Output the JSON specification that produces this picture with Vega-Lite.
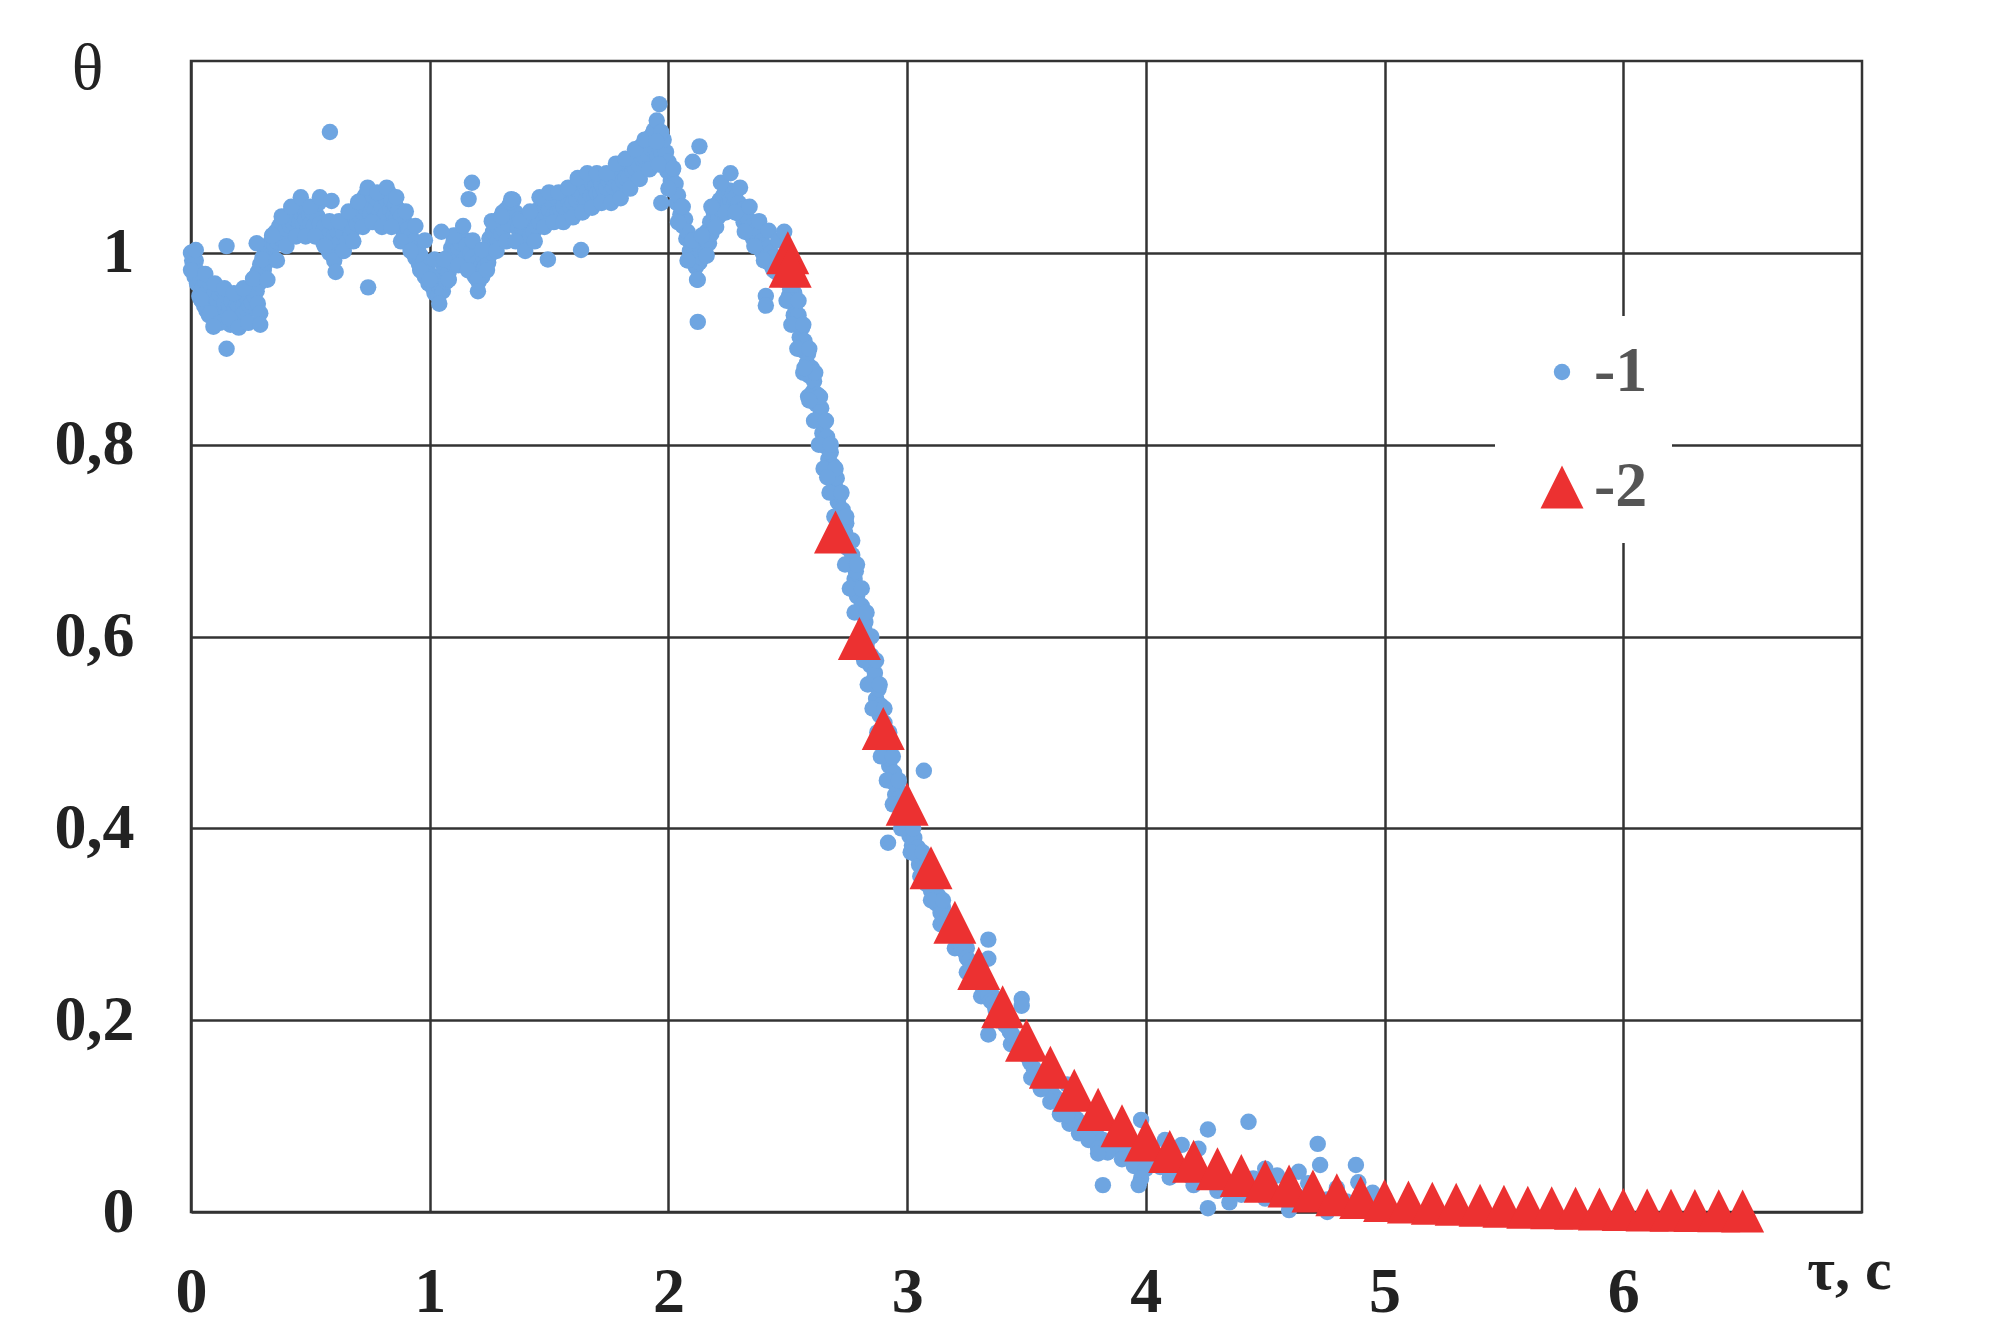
{
  "$schema": "https://vega.github.io/schema/vega-lite/v6.json",
  "width": 1671,
  "height": 1151,
  "autosize": {"type": "none"},
  "padding": {"left": 191, "top": 61, "right": 138, "bottom": 124},
  "background": "white",
  "config": {
    "view": {"stroke": "#333333", "strokeWidth": 2.5},
    "axis": {
      "domain": false,
      "ticks": false,
      "tickSize": 0,
      "gridColor": "#333333",
      "gridWidth": 2.5,
      "gridOpacity": 1,
      "labelFont": "Liberation Serif",
      "labelFontSize": 64,
      "labelFontWeight": "bold",
      "labelColor": "#222222",
      "labelFlush": false,
      "labelOverlap": false,
      "titleFont": "Liberation Serif",
      "titleColor": "#222222"
    },
    "legend": {
      "orient": "none",
      "legendX": 1304,
      "legendY": 255,
      "fillColor": "white",
      "padding": 24,
      "rowPadding": 51,
      "labelOffset": 0,
      "symbolOffset": 11,
      "labelFont": "Liberation Serif",
      "labelFontSize": 64,
      "labelFontWeight": "bold",
      "labelColor": "#555555",
      "symbolStrokeWidth": 0
    }
  },
  "data": {
    "values": [
      {"s":"-1","t":0.000,"v":1.000},{"s":"-1","t":0.005,"v":0.992},{"s":"-1","t":0.010,"v":0.985},{"s":"-1","t":0.015,"v":0.975},
      {"s":"-1","t":0.020,"v":0.992},{"s":"-1","t":0.025,"v":0.968},{"s":"-1","t":0.030,"v":0.980},{"s":"-1","t":0.035,"v":0.955},
      {"s":"-1","t":0.040,"v":0.972},{"s":"-1","t":0.045,"v":0.950},{"s":"-1","t":0.050,"v":0.965},{"s":"-1","t":0.055,"v":0.945},
      {"s":"-1","t":0.060,"v":0.970},{"s":"-1","t":0.065,"v":0.940},{"s":"-1","t":0.070,"v":0.960},{"s":"-1","t":0.075,"v":0.935},
      {"s":"-1","t":0.080,"v":0.968},{"s":"-1","t":0.085,"v":0.945},{"s":"-1","t":0.090,"v":0.955},{"s":"-1","t":0.095,"v":0.932},
      {"s":"-1","t":0.100,"v":0.960},{"s":"-1","t":0.105,"v":0.940},{"s":"-1","t":0.110,"v":0.950},{"s":"-1","t":0.115,"v":0.928},
      {"s":"-1","t":0.120,"v":0.957},{"s":"-1","t":0.125,"v":0.935},{"s":"-1","t":0.130,"v":0.962},{"s":"-1","t":0.135,"v":0.940},
      {"s":"-1","t":0.140,"v":0.948},{"s":"-1","t":0.145,"v":0.930},{"s":"-1","t":0.150,"v":0.955},{"s":"-1","t":0.155,"v":0.935},
      {"s":"-1","t":0.160,"v":0.945},{"s":"-1","t":0.165,"v":0.925},{"s":"-1","t":0.170,"v":0.950},{"s":"-1","t":0.175,"v":0.932},
      {"s":"-1","t":0.180,"v":0.940},{"s":"-1","t":0.185,"v":0.925},{"s":"-1","t":0.190,"v":0.948},{"s":"-1","t":0.195,"v":0.930},
      {"s":"-1","t":0.200,"v":0.945},{"s":"-1","t":0.205,"v":0.932},{"s":"-1","t":0.210,"v":0.952},{"s":"-1","t":0.215,"v":0.935},
      {"s":"-1","t":0.220,"v":0.945},{"s":"-1","t":0.225,"v":0.938},{"s":"-1","t":0.230,"v":0.955},{"s":"-1","t":0.235,"v":0.940},
      {"s":"-1","t":0.240,"v":0.950},{"s":"-1","t":0.245,"v":0.945},{"s":"-1","t":0.250,"v":0.962},{"s":"-1","t":0.255,"v":0.948},
      {"s":"-1","t":0.260,"v":0.965},{"s":"-1","t":0.265,"v":0.955},{"s":"-1","t":0.270,"v":0.975},{"s":"-1","t":0.275,"v":0.960},
      {"s":"-1","t":0.280,"v":0.980},{"s":"-1","t":0.285,"v":0.968},{"s":"-1","t":0.290,"v":0.988},{"s":"-1","t":0.295,"v":0.975},
      {"s":"-1","t":0.300,"v":0.995},{"s":"-1","t":0.305,"v":0.982},{"s":"-1","t":0.310,"v":1.000},{"s":"-1","t":0.315,"v":0.990},
      {"s":"-1","t":0.320,"v":1.005},{"s":"-1","t":0.330,"v":1.010},{"s":"-1","t":0.335,"v":0.998},{"s":"-1","t":0.340,"v":1.018},
      {"s":"-1","t":0.350,"v":1.008},{"s":"-1","t":0.355,"v":1.022},{"s":"-1","t":0.360,"v":1.012},{"s":"-1","t":0.370,"v":1.028},
      {"s":"-1","t":0.375,"v":1.015},{"s":"-1","t":0.380,"v":1.032},{"s":"-1","t":0.390,"v":1.020},{"s":"-1","t":0.395,"v":1.035},
      {"s":"-1","t":0.400,"v":1.025},{"s":"-1","t":0.410,"v":1.040},{"s":"-1","t":0.415,"v":1.028},{"s":"-1","t":0.420,"v":1.038},
      {"s":"-1","t":0.430,"v":1.030},{"s":"-1","t":0.435,"v":1.045},{"s":"-1","t":0.440,"v":1.035},{"s":"-1","t":0.450,"v":1.048},
      {"s":"-1","t":0.455,"v":1.032},{"s":"-1","t":0.460,"v":1.042},{"s":"-1","t":0.470,"v":1.030},{"s":"-1","t":0.475,"v":1.045},
      {"s":"-1","t":0.480,"v":1.035},{"s":"-1","t":0.490,"v":1.025},{"s":"-1","t":0.495,"v":1.040},{"s":"-1","t":0.500,"v":1.030},
      {"s":"-1","t":0.510,"v":1.042},{"s":"-1","t":0.515,"v":1.028},{"s":"-1","t":0.520,"v":1.048},{"s":"-1","t":0.530,"v":1.038},
      {"s":"-1","t":0.535,"v":1.052},{"s":"-1","t":0.540,"v":1.030},{"s":"-1","t":0.550,"v":1.022},{"s":"-1","t":0.555,"v":1.010},
      {"s":"-1","t":0.560,"v":1.028},{"s":"-1","t":0.570,"v":1.005},{"s":"-1","t":0.575,"v":1.018},{"s":"-1","t":0.580,"v":1.000},
      {"s":"-1","t":0.590,"v":1.012},{"s":"-1","t":0.595,"v":0.998},{"s":"-1","t":0.600,"v":1.018},{"s":"-1","t":0.610,"v":1.005},
      {"s":"-1","t":0.615,"v":1.022},{"s":"-1","t":0.620,"v":1.010},{"s":"-1","t":0.630,"v":1.028},{"s":"-1","t":0.635,"v":1.002},
      {"s":"-1","t":0.640,"v":1.020},{"s":"-1","t":0.650,"v":1.030},{"s":"-1","t":0.655,"v":1.012},{"s":"-1","t":0.660,"v":1.035},
      {"s":"-1","t":0.670,"v":1.020},{"s":"-1","t":0.675,"v":1.040},{"s":"-1","t":0.680,"v":1.025},{"s":"-1","t":0.690,"v":1.045},
      {"s":"-1","t":0.695,"v":1.030},{"s":"-1","t":0.700,"v":1.050},{"s":"-1","t":0.710,"v":1.038},{"s":"-1","t":0.715,"v":1.055},
      {"s":"-1","t":0.720,"v":1.042},{"s":"-1","t":0.730,"v":1.060},{"s":"-1","t":0.735,"v":1.045},{"s":"-1","t":0.740,"v":1.058},
      {"s":"-1","t":0.750,"v":1.040},{"s":"-1","t":0.755,"v":1.052},{"s":"-1","t":0.760,"v":1.060},{"s":"-1","t":0.770,"v":1.045},
      {"s":"-1","t":0.775,"v":1.035},{"s":"-1","t":0.780,"v":1.055},{"s":"-1","t":0.790,"v":1.042},{"s":"-1","t":0.795,"v":1.060},
      {"s":"-1","t":0.800,"v":1.048},{"s":"-1","t":0.810,"v":1.058},{"s":"-1","t":0.815,"v":1.040},{"s":"-1","t":0.820,"v":1.055},
      {"s":"-1","t":0.830,"v":1.062},{"s":"-1","t":0.835,"v":1.045},{"s":"-1","t":0.840,"v":1.055},{"s":"-1","t":0.850,"v":1.040},
      {"s":"-1","t":0.855,"v":1.050},{"s":"-1","t":0.860,"v":1.035},{"s":"-1","t":0.870,"v":1.045},{"s":"-1","t":0.875,"v":1.030},
      {"s":"-1","t":0.880,"v":1.038},{"s":"-1","t":0.890,"v":1.022},{"s":"-1","t":0.895,"v":1.032},{"s":"-1","t":0.900,"v":1.015},
      {"s":"-1","t":0.910,"v":1.025},{"s":"-1","t":0.915,"v":1.008},{"s":"-1","t":0.920,"v":1.018},{"s":"-1","t":0.930,"v":1.000},
      {"s":"-1","t":0.935,"v":1.012},{"s":"-1","t":0.940,"v":0.995},{"s":"-1","t":0.950,"v":1.005},{"s":"-1","t":0.955,"v":0.988},
      {"s":"-1","t":0.960,"v":0.998},{"s":"-1","t":0.970,"v":0.980},{"s":"-1","t":0.975,"v":0.992},{"s":"-1","t":0.980,"v":0.975},
      {"s":"-1","t":0.990,"v":0.985},{"s":"-1","t":0.995,"v":0.968},{"s":"-1","t":1.000,"v":0.978},{"s":"-1","t":1.010,"v":0.965},
      {"s":"-1","t":1.015,"v":0.975},{"s":"-1","t":1.020,"v":0.958},{"s":"-1","t":1.030,"v":0.970},{"s":"-1","t":1.035,"v":0.955},
      {"s":"-1","t":1.040,"v":0.965},{"s":"-1","t":1.050,"v":0.975},{"s":"-1","t":1.055,"v":0.960},{"s":"-1","t":1.060,"v":0.985},
      {"s":"-1","t":1.070,"v":0.970},{"s":"-1","t":1.075,"v":0.995},{"s":"-1","t":1.080,"v":0.980},{"s":"-1","t":1.090,"v":1.005},
      {"s":"-1","t":1.095,"v":0.990},{"s":"-1","t":1.100,"v":1.012},{"s":"-1","t":1.110,"v":0.998},{"s":"-1","t":1.115,"v":1.018},
      {"s":"-1","t":1.120,"v":1.005},{"s":"-1","t":1.130,"v":1.010},{"s":"-1","t":1.135,"v":0.990},{"s":"-1","t":1.140,"v":1.015},
      {"s":"-1","t":1.150,"v":0.995},{"s":"-1","t":1.155,"v":1.008},{"s":"-1","t":1.160,"v":0.985},{"s":"-1","t":1.170,"v":1.000},
      {"s":"-1","t":1.175,"v":0.980},{"s":"-1","t":1.180,"v":0.995},{"s":"-1","t":1.190,"v":0.975},{"s":"-1","t":1.200,"v":0.990},
      {"s":"-1","t":1.205,"v":0.970},{"s":"-1","t":1.210,"v":0.985},{"s":"-1","t":1.220,"v":0.975},{"s":"-1","t":1.225,"v":0.995},
      {"s":"-1","t":1.230,"v":0.985},{"s":"-1","t":1.240,"v":1.005},{"s":"-1","t":1.245,"v":0.990},{"s":"-1","t":1.250,"v":1.015},
      {"s":"-1","t":1.260,"v":1.000},{"s":"-1","t":1.265,"v":1.022},{"s":"-1","t":1.270,"v":1.008},{"s":"-1","t":1.280,"v":1.028},
      {"s":"-1","t":1.285,"v":1.012},{"s":"-1","t":1.290,"v":1.035},{"s":"-1","t":1.300,"v":1.020},{"s":"-1","t":1.305,"v":1.042},
      {"s":"-1","t":1.310,"v":1.025},{"s":"-1","t":1.320,"v":1.045},{"s":"-1","t":1.330,"v":1.030},{"s":"-1","t":1.335,"v":1.050},
      {"s":"-1","t":1.340,"v":1.038},{"s":"-1","t":1.350,"v":1.055},{"s":"-1","t":1.355,"v":1.035},{"s":"-1","t":1.360,"v":1.042},
      {"s":"-1","t":1.370,"v":1.025},{"s":"-1","t":1.375,"v":1.035},{"s":"-1","t":1.380,"v":1.015},{"s":"-1","t":1.390,"v":1.025},
      {"s":"-1","t":1.395,"v":1.008},{"s":"-1","t":1.400,"v":1.020},{"s":"-1","t":1.410,"v":1.012},{"s":"-1","t":1.415,"v":1.030},
      {"s":"-1","t":1.420,"v":1.018},{"s":"-1","t":1.430,"v":1.035},{"s":"-1","t":1.435,"v":1.022},{"s":"-1","t":1.440,"v":1.040},
      {"s":"-1","t":1.450,"v":1.028},{"s":"-1","t":1.455,"v":1.045},{"s":"-1","t":1.460,"v":1.032},{"s":"-1","t":1.470,"v":1.050},
      {"s":"-1","t":1.475,"v":1.035},{"s":"-1","t":1.480,"v":1.055},{"s":"-1","t":1.490,"v":1.040},{"s":"-1","t":1.495,"v":1.058},
      {"s":"-1","t":1.500,"v":1.045},{"s":"-1","t":1.510,"v":1.035},{"s":"-1","t":1.515,"v":1.052},{"s":"-1","t":1.520,"v":1.040},
      {"s":"-1","t":1.530,"v":1.058},{"s":"-1","t":1.535,"v":1.042},{"s":"-1","t":1.540,"v":1.055},{"s":"-1","t":1.550,"v":1.045},
      {"s":"-1","t":1.555,"v":1.062},{"s":"-1","t":1.560,"v":1.048},{"s":"-1","t":1.570,"v":1.060},{"s":"-1","t":1.575,"v":1.042},
      {"s":"-1","t":1.580,"v":1.055},{"s":"-1","t":1.590,"v":1.048},{"s":"-1","t":1.595,"v":1.065},{"s":"-1","t":1.600,"v":1.052},
      {"s":"-1","t":1.610,"v":1.068},{"s":"-1","t":1.615,"v":1.055},{"s":"-1","t":1.620,"v":1.072},{"s":"-1","t":1.630,"v":1.058},
      {"s":"-1","t":1.635,"v":1.075},{"s":"-1","t":1.640,"v":1.060},{"s":"-1","t":1.650,"v":1.070},{"s":"-1","t":1.655,"v":1.055},
      {"s":"-1","t":1.660,"v":1.065},{"s":"-1","t":1.670,"v":1.075},{"s":"-1","t":1.675,"v":1.060},{"s":"-1","t":1.680,"v":1.072},
      {"s":"-1","t":1.690,"v":1.058},{"s":"-1","t":1.695,"v":1.070},{"s":"-1","t":1.700,"v":1.062},{"s":"-1","t":1.710,"v":1.078},
      {"s":"-1","t":1.715,"v":1.062},{"s":"-1","t":1.720,"v":1.072},{"s":"-1","t":1.730,"v":1.065},{"s":"-1","t":1.735,"v":1.080},
      {"s":"-1","t":1.740,"v":1.068},{"s":"-1","t":1.750,"v":1.075},{"s":"-1","t":1.755,"v":1.062},{"s":"-1","t":1.760,"v":1.078},
      {"s":"-1","t":1.770,"v":1.068},{"s":"-1","t":1.775,"v":1.085},{"s":"-1","t":1.780,"v":1.072},{"s":"-1","t":1.790,"v":1.082},
      {"s":"-1","t":1.795,"v":1.070},{"s":"-1","t":1.800,"v":1.088},{"s":"-1","t":1.810,"v":1.075},{"s":"-1","t":1.815,"v":1.090},
      {"s":"-1","t":1.820,"v":1.078},{"s":"-1","t":1.830,"v":1.092},{"s":"-1","t":1.835,"v":1.080},{"s":"-1","t":1.840,"v":1.095},
      {"s":"-1","t":1.850,"v":1.085},{"s":"-1","t":1.855,"v":1.100},{"s":"-1","t":1.860,"v":1.088},{"s":"-1","t":1.870,"v":1.105},
      {"s":"-1","t":1.875,"v":1.092},{"s":"-1","t":1.880,"v":1.110},{"s":"-1","t":1.890,"v":1.098},{"s":"-1","t":1.895,"v":1.112},
      {"s":"-1","t":1.900,"v":1.100},{"s":"-1","t":1.910,"v":1.115},{"s":"-1","t":1.915,"v":1.102},{"s":"-1","t":1.920,"v":1.120},
      {"s":"-1","t":1.930,"v":1.108},{"s":"-1","t":1.935,"v":1.125},{"s":"-1","t":1.940,"v":1.110},{"s":"-1","t":1.950,"v":1.118},
      {"s":"-1","t":1.955,"v":1.100},{"s":"-1","t":1.960,"v":1.122},{"s":"-1","t":1.970,"v":1.105},{"s":"-1","t":1.975,"v":1.115},
      {"s":"-1","t":1.980,"v":1.095},{"s":"-1","t":1.990,"v":1.105},{"s":"-1","t":1.995,"v":1.085},{"s":"-1","t":2.000,"v":1.095},
      {"s":"-1","t":2.010,"v":1.075},{"s":"-1","t":2.015,"v":1.085},{"s":"-1","t":2.020,"v":1.065},{"s":"-1","t":2.030,"v":1.072},
      {"s":"-1","t":2.035,"v":1.052},{"s":"-1","t":2.040,"v":1.060},{"s":"-1","t":2.050,"v":1.040},{"s":"-1","t":2.055,"v":1.048},
      {"s":"-1","t":2.060,"v":1.028},{"s":"-1","t":2.070,"v":1.035},{"s":"-1","t":2.075,"v":1.015},{"s":"-1","t":2.080,"v":1.022},
      {"s":"-1","t":2.090,"v":1.002},{"s":"-1","t":2.095,"v":1.010},{"s":"-1","t":2.100,"v":0.992},{"s":"-1","t":2.110,"v":1.000},
      {"s":"-1","t":2.115,"v":0.985},{"s":"-1","t":2.120,"v":0.995},{"s":"-1","t":2.130,"v":0.990},{"s":"-1","t":2.135,"v":1.005},
      {"s":"-1","t":2.140,"v":0.995},{"s":"-1","t":2.150,"v":1.015},{"s":"-1","t":2.155,"v":1.000},{"s":"-1","t":2.160,"v":1.022},
      {"s":"-1","t":2.170,"v":1.010},{"s":"-1","t":2.175,"v":1.032},{"s":"-1","t":2.180,"v":1.020},{"s":"-1","t":2.190,"v":1.042},
      {"s":"-1","t":2.195,"v":1.028},{"s":"-1","t":2.200,"v":1.050},{"s":"-1","t":2.210,"v":1.038},{"s":"-1","t":2.215,"v":1.055},
      {"s":"-1","t":2.220,"v":1.045},{"s":"-1","t":2.230,"v":1.060},{"s":"-1","t":2.235,"v":1.048},{"s":"-1","t":2.240,"v":1.062},
      {"s":"-1","t":2.250,"v":1.052},{"s":"-1","t":2.255,"v":1.065},{"s":"-1","t":2.260,"v":1.055},{"s":"-1","t":2.270,"v":1.062},
      {"s":"-1","t":2.275,"v":1.050},{"s":"-1","t":2.280,"v":1.058},{"s":"-1","t":2.290,"v":1.045},{"s":"-1","t":2.295,"v":1.052},
      {"s":"-1","t":2.300,"v":1.040},{"s":"-1","t":2.310,"v":1.045},{"s":"-1","t":2.315,"v":1.032},{"s":"-1","t":2.320,"v":1.040},
      {"s":"-1","t":2.330,"v":1.025},{"s":"-1","t":2.335,"v":1.035},{"s":"-1","t":2.340,"v":1.020},{"s":"-1","t":2.350,"v":1.028},
      {"s":"-1","t":2.355,"v":1.015},{"s":"-1","t":2.360,"v":1.022},{"s":"-1","t":2.370,"v":1.010},{"s":"-1","t":2.375,"v":1.018},
      {"s":"-1","t":2.380,"v":1.005},{"s":"-1","t":2.390,"v":1.012},{"s":"-1","t":2.395,"v":1.000},{"s":"-1","t":2.400,"v":1.008},
      {"s":"-1","t":2.410,"v":0.995},{"s":"-1","t":2.415,"v":1.005},{"s":"-1","t":2.420,"v":0.990},{"s":"-1","t":2.430,"v":1.000},
      {"s":"-1","t":2.435,"v":0.985},{"s":"-1","t":2.440,"v":0.995},{"s":"-1","t":2.450,"v":0.980},{"s":"-1","t":2.460,"v":0.990},
      {"s":"-1","t":2.470,"v":0.975},{"s":"-1","t":2.480,"v":0.985},
      {"s":"-1","t":0.00,"v":0.982},{"s":"-1","t":0.02,"v":1.003},{"s":"-1","t":0.04,"v":0.952},{"s":"-1","t":0.06,"v":0.978},
      {"s":"-1","t":0.08,"v":0.937},{"s":"-1","t":0.10,"v":0.968},{"s":"-1","t":0.12,"v":0.927},{"s":"-1","t":0.14,"v":0.963},
      {"s":"-1","t":0.16,"v":0.932},{"s":"-1","t":0.18,"v":0.958},{"s":"-1","t":0.20,"v":0.922},{"s":"-1","t":0.22,"v":0.963},
      {"s":"-1","t":0.24,"v":0.927},{"s":"-1","t":0.26,"v":0.973},{"s":"-1","t":0.28,"v":0.947},{"s":"-1","t":0.30,"v":0.993},
      {"s":"-1","t":0.32,"v":0.972},{"s":"-1","t":0.34,"v":1.018},{"s":"-1","t":0.36,"v":0.992},{"s":"-1","t":0.38,"v":1.038},
      {"s":"-1","t":0.40,"v":1.007},{"s":"-1","t":0.42,"v":1.048},{"s":"-1","t":0.44,"v":1.017},{"s":"-1","t":0.46,"v":1.058},
      {"s":"-1","t":0.48,"v":1.017},{"s":"-1","t":0.50,"v":1.048},{"s":"-1","t":0.52,"v":1.017},{"s":"-1","t":0.54,"v":1.058},
      {"s":"-1","t":0.56,"v":1.007},{"s":"-1","t":0.58,"v":1.033},{"s":"-1","t":0.60,"v":0.992},{"s":"-1","t":0.62,"v":1.033},
      {"s":"-1","t":0.64,"v":1.002},{"s":"-1","t":0.66,"v":1.043},{"s":"-1","t":0.68,"v":1.012},{"s":"-1","t":0.70,"v":1.053},
      {"s":"-1","t":0.72,"v":1.027},{"s":"-1","t":0.74,"v":1.068},{"s":"-1","t":0.76,"v":1.032},{"s":"-1","t":0.78,"v":1.063},
      {"s":"-1","t":0.80,"v":1.027},{"s":"-1","t":0.82,"v":1.068},{"s":"-1","t":0.84,"v":1.027},{"s":"-1","t":0.86,"v":1.058},
      {"s":"-1","t":0.88,"v":1.012},{"s":"-1","t":0.90,"v":1.043},{"s":"-1","t":0.92,"v":1.002},{"s":"-1","t":0.94,"v":1.028},
      {"s":"-1","t":0.96,"v":0.982},{"s":"-1","t":0.98,"v":1.013},{"s":"-1","t":1.00,"v":0.972},{"s":"-1","t":1.02,"v":0.993},
      {"s":"-1","t":1.04,"v":0.947},{"s":"-1","t":1.06,"v":0.993},{"s":"-1","t":1.08,"v":0.972},{"s":"-1","t":1.10,"v":1.018},
      {"s":"-1","t":1.12,"v":0.987},{"s":"-1","t":1.14,"v":1.028},{"s":"-1","t":1.16,"v":0.982},{"s":"-1","t":1.18,"v":1.013},
      {"s":"-1","t":1.20,"v":0.972},{"s":"-1","t":1.22,"v":1.003},{"s":"-1","t":1.24,"v":0.982},{"s":"-1","t":1.26,"v":1.033},
      {"s":"-1","t":1.28,"v":1.002},{"s":"-1","t":1.30,"v":1.038},{"s":"-1","t":1.32,"v":1.012},{"s":"-1","t":1.34,"v":1.053},
      {"s":"-1","t":1.36,"v":1.012},{"s":"-1","t":1.38,"v":1.033},{"s":"-1","t":1.40,"v":1.002},{"s":"-1","t":1.42,"v":1.043},
      {"s":"-1","t":1.44,"v":1.012},{"s":"-1","t":1.46,"v":1.058},{"s":"-1","t":1.48,"v":1.027},{"s":"-1","t":1.50,"v":1.063},
      {"s":"-1","t":1.52,"v":1.032},{"s":"-1","t":1.54,"v":1.063},{"s":"-1","t":1.56,"v":1.032},{"s":"-1","t":1.58,"v":1.068},
      {"s":"-1","t":1.60,"v":1.037},{"s":"-1","t":1.62,"v":1.078},{"s":"-1","t":1.64,"v":1.042},{"s":"-1","t":1.66,"v":1.083},
      {"s":"-1","t":1.68,"v":1.047},{"s":"-1","t":1.70,"v":1.083},{"s":"-1","t":1.72,"v":1.052},{"s":"-1","t":1.74,"v":1.083},
      {"s":"-1","t":1.76,"v":1.052},{"s":"-1","t":1.78,"v":1.093},{"s":"-1","t":1.80,"v":1.057},{"s":"-1","t":1.82,"v":1.098},
      {"s":"-1","t":1.84,"v":1.067},{"s":"-1","t":1.86,"v":1.108},{"s":"-1","t":1.88,"v":1.077},{"s":"-1","t":1.90,"v":1.118},
      {"s":"-1","t":1.92,"v":1.087},{"s":"-1","t":1.94,"v":1.128},{"s":"-1","t":1.96,"v":1.092},{"s":"-1","t":1.98,"v":1.118},
      {"s":"-1","t":2.00,"v":1.067},{"s":"-1","t":2.02,"v":1.088},{"s":"-1","t":2.04,"v":1.032},{"s":"-1","t":2.06,"v":1.048},
      {"s":"-1","t":2.08,"v":0.992},{"s":"-1","t":2.10,"v":1.013},{"s":"-1","t":2.12,"v":0.972},{"s":"-1","t":2.14,"v":1.018},
      {"s":"-1","t":2.16,"v":0.997},{"s":"-1","t":2.18,"v":1.048},{"s":"-1","t":2.20,"v":1.027},{"s":"-1","t":2.22,"v":1.073},
      {"s":"-1","t":2.24,"v":1.042},{"s":"-1","t":2.26,"v":1.083},{"s":"-1","t":2.28,"v":1.042},{"s":"-1","t":2.30,"v":1.068},
      {"s":"-1","t":2.32,"v":1.022},{"s":"-1","t":2.34,"v":1.048},{"s":"-1","t":2.36,"v":1.007},{"s":"-1","t":2.38,"v":1.033},
      {"s":"-1","t":2.40,"v":0.992},{"s":"-1","t":2.42,"v":1.023},{"s":"-1","t":2.44,"v":0.982},{"s":"-1","t":2.46,"v":1.013},
      {"s":"-1","t":2.48,"v":0.972},
      {"s":"-1","t":0.149,"v":1.007},{"s":"-1","t":0.275,"v":1.010},{"s":"-1","t":0.149,"v":0.900},{"s":"-1","t":0.290,"v":0.937},
      {"s":"-1","t":0.290,"v":0.925},{"s":"-1","t":0.094,"v":0.923},{"s":"-1","t":0.582,"v":1.126},{"s":"-1","t":0.589,"v":1.054},
      {"s":"-1","t":0.606,"v":0.980},{"s":"-1","t":0.742,"v":0.964},{"s":"-1","t":1.177,"v":1.073},{"s":"-1","t":1.163,"v":1.056},
      {"s":"-1","t":1.049,"v":1.022},{"s":"-1","t":1.202,"v":0.960},{"s":"-1","t":1.495,"v":0.993},{"s":"-1","t":1.634,"v":1.003},
      {"s":"-1","t":1.962,"v":1.155},{"s":"-1","t":1.951,"v":1.138},{"s":"-1","t":1.970,"v":1.126},{"s":"-1","t":1.950,"v":1.116},
      {"s":"-1","t":1.970,"v":1.052},{"s":"-1","t":2.130,"v":1.111},{"s":"-1","t":2.102,"v":1.095},{"s":"-1","t":2.123,"v":0.972},
      {"s":"-1","t":2.123,"v":0.928},{"s":"-1","t":2.408,"v":0.955},{"s":"-1","t":2.408,"v":0.945},{"s":"-1","t":2.485,"v":1.022},
      {"s":"-1","t":1.342,"v":1.056},{"s":"-1","t":2.527,"v":0.958},
      {"s":"-1","t":2.490,"v":0.978},{"s":"-1","t":2.500,"v":0.970},{"s":"-1","t":2.505,"v":0.955},{"s":"-1","t":2.510,"v":0.962},
      {"s":"-1","t":2.520,"v":0.950},{"s":"-1","t":2.525,"v":0.935},{"s":"-1","t":2.530,"v":0.945},{"s":"-1","t":2.540,"v":0.925},
      {"s":"-1","t":2.545,"v":0.935},{"s":"-1","t":2.550,"v":0.912},{"s":"-1","t":2.560,"v":0.922},{"s":"-1","t":2.565,"v":0.898},
      {"s":"-1","t":2.570,"v":0.908},{"s":"-1","t":2.580,"v":0.885},{"s":"-1","t":2.585,"v":0.895},{"s":"-1","t":2.590,"v":0.872},
      {"s":"-1","t":2.600,"v":0.880},{"s":"-1","t":2.605,"v":0.855},{"s":"-1","t":2.610,"v":0.866},{"s":"-1","t":2.620,"v":0.842},
      {"s":"-1","t":2.625,"v":0.852},{"s":"-1","t":2.630,"v":0.828},{"s":"-1","t":2.640,"v":0.838},{"s":"-1","t":2.645,"v":0.812},
      {"s":"-1","t":2.650,"v":0.822},{"s":"-1","t":2.660,"v":0.798},{"s":"-1","t":2.665,"v":0.808},{"s":"-1","t":2.670,"v":0.785},
      {"s":"-1","t":2.680,"v":0.792},{"s":"-1","t":2.685,"v":0.768},{"s":"-1","t":2.690,"v":0.778},{"s":"-1","t":2.700,"v":0.755},
      {"s":"-1","t":2.705,"v":0.765},{"s":"-1","t":2.710,"v":0.740},{"s":"-1","t":2.720,"v":0.748},{"s":"-1","t":2.725,"v":0.722},
      {"s":"-1","t":2.730,"v":0.732},{"s":"-1","t":2.740,"v":0.708},{"s":"-1","t":2.745,"v":0.718},{"s":"-1","t":2.750,"v":0.692},
      {"s":"-1","t":2.760,"v":0.700},{"s":"-1","t":2.765,"v":0.675},{"s":"-1","t":2.770,"v":0.685},{"s":"-1","t":2.780,"v":0.660},
      {"s":"-1","t":2.785,"v":0.668},{"s":"-1","t":2.790,"v":0.642},{"s":"-1","t":2.800,"v":0.650},{"s":"-1","t":2.805,"v":0.625},
      {"s":"-1","t":2.810,"v":0.632},{"s":"-1","t":2.820,"v":0.608},{"s":"-1","t":2.825,"v":0.615},{"s":"-1","t":2.830,"v":0.590},
      {"s":"-1","t":2.840,"v":0.598},{"s":"-1","t":2.845,"v":0.570},{"s":"-1","t":2.850,"v":0.580},{"s":"-1","t":2.860,"v":0.555},
      {"s":"-1","t":2.865,"v":0.562},{"s":"-1","t":2.870,"v":0.535},{"s":"-1","t":2.880,"v":0.545},{"s":"-1","t":2.885,"v":0.518},
      {"s":"-1","t":2.890,"v":0.528},{"s":"-1","t":2.900,"v":0.500},{"s":"-1","t":2.905,"v":0.510},{"s":"-1","t":2.910,"v":0.482},
      {"s":"-1","t":2.920,"v":0.490},{"s":"-1","t":2.925,"v":0.465},{"s":"-1","t":2.930,"v":0.472},{"s":"-1","t":2.940,"v":0.448},
      {"s":"-1","t":2.945,"v":0.458},{"s":"-1","t":2.950,"v":0.435},{"s":"-1","t":2.960,"v":0.442},{"s":"-1","t":2.965,"v":0.425},
      {"s":"-1","t":2.970,"v":0.432},{"s":"-1","t":2.980,"v":0.412},{"s":"-1","t":2.985,"v":0.420},{"s":"-1","t":2.990,"v":0.402},
      {"s":"-1","t":3.000,"v":0.410},{"s":"-1","t":3.010,"v":0.392},{"s":"-1","t":3.015,"v":0.400},{"s":"-1","t":3.020,"v":0.382},
      {"s":"-1","t":3.030,"v":0.390},{"s":"-1","t":3.040,"v":0.372},{"s":"-1","t":3.045,"v":0.380},{"s":"-1","t":3.050,"v":0.362},
      {"s":"-1","t":3.060,"v":0.370},{"s":"-1","t":3.070,"v":0.352},{"s":"-1","t":3.075,"v":0.360},{"s":"-1","t":3.080,"v":0.342},
      {"s":"-1","t":3.090,"v":0.350},{"s":"-1","t":3.100,"v":0.335},{"s":"-1","t":3.110,"v":0.340},{"s":"-1","t":3.120,"v":0.322},
      {"s":"-1","t":3.130,"v":0.330},{"s":"-1","t":3.140,"v":0.312},{"s":"-1","t":3.150,"v":0.318},{"s":"-1","t":3.160,"v":0.300},
      {"s":"-1","t":3.170,"v":0.308},{"s":"-1","t":3.180,"v":0.292},{"s":"-1","t":3.190,"v":0.298},
      {"s":"-1","t":2.495,"v":0.950},{"s":"-1","t":2.545,"v":0.950},{"s":"-1","t":2.515,"v":0.925},{"s":"-1","t":2.565,"v":0.925},
      {"s":"-1","t":2.540,"v":0.900},{"s":"-1","t":2.590,"v":0.900},{"s":"-1","t":2.565,"v":0.875},{"s":"-1","t":2.615,"v":0.875},
      {"s":"-1","t":2.585,"v":0.850},{"s":"-1","t":2.635,"v":0.850},{"s":"-1","t":2.610,"v":0.825},{"s":"-1","t":2.660,"v":0.825},
      {"s":"-1","t":2.630,"v":0.800},{"s":"-1","t":2.680,"v":0.800},{"s":"-1","t":2.650,"v":0.775},{"s":"-1","t":2.700,"v":0.775},
      {"s":"-1","t":2.675,"v":0.750},{"s":"-1","t":2.725,"v":0.750},{"s":"-1","t":2.695,"v":0.725},{"s":"-1","t":2.745,"v":0.725},
      {"s":"-1","t":2.720,"v":0.700},{"s":"-1","t":2.770,"v":0.700},{"s":"-1","t":2.740,"v":0.675},{"s":"-1","t":2.790,"v":0.675},
      {"s":"-1","t":2.760,"v":0.650},{"s":"-1","t":2.810,"v":0.650},{"s":"-1","t":2.780,"v":0.625},{"s":"-1","t":2.830,"v":0.625},
      {"s":"-1","t":2.800,"v":0.600},{"s":"-1","t":2.850,"v":0.600},{"s":"-1","t":2.820,"v":0.575},{"s":"-1","t":2.870,"v":0.575},
      {"s":"-1","t":2.835,"v":0.550},{"s":"-1","t":2.885,"v":0.550},{"s":"-1","t":2.855,"v":0.525},{"s":"-1","t":2.905,"v":0.525},
      {"s":"-1","t":2.875,"v":0.500},{"s":"-1","t":2.925,"v":0.500},{"s":"-1","t":2.890,"v":0.475},{"s":"-1","t":2.940,"v":0.475},
      {"s":"-1","t":2.915,"v":0.450},{"s":"-1","t":2.965,"v":0.450},{"s":"-1","t":2.940,"v":0.425},{"s":"-1","t":2.990,"v":0.425},
      {"s":"-1","t":2.975,"v":0.400},{"s":"-1","t":3.025,"v":0.400},{"s":"-1","t":3.015,"v":0.375},{"s":"-1","t":3.065,"v":0.375},
      {"s":"-1","t":3.055,"v":0.350},{"s":"-1","t":3.105,"v":0.350},{"s":"-1","t":3.100,"v":0.325},{"s":"-1","t":3.150,"v":0.325},
      {"s":"-1","t":3.140,"v":0.300},{"s":"-1","t":3.190,"v":0.300},{"s":"-1","t":3.200,"v":0.275},{"s":"-1","t":3.250,"v":0.275},
      {"s":"-1","t":3.250,"v":0.250},{"s":"-1","t":3.300,"v":0.250},{"s":"-1","t":3.310,"v":0.225},{"s":"-1","t":3.360,"v":0.225},
      {"s":"-1","t":3.375,"v":0.200},{"s":"-1","t":3.425,"v":0.200},{"s":"-1","t":3.435,"v":0.175},{"s":"-1","t":3.485,"v":0.175},
      {"s":"-1","t":3.200,"v":0.290},{"s":"-1","t":3.210,"v":0.282},{"s":"-1","t":3.220,"v":0.282},{"s":"-1","t":3.230,"v":0.274},
      {"s":"-1","t":3.240,"v":0.272},{"s":"-1","t":3.250,"v":0.265},{"s":"-1","t":3.260,"v":0.262},{"s":"-1","t":3.270,"v":0.255},
      {"s":"-1","t":3.280,"v":0.252},{"s":"-1","t":3.290,"v":0.246},{"s":"-1","t":3.300,"v":0.244},{"s":"-1","t":3.310,"v":0.237},
      {"s":"-1","t":3.320,"v":0.235},{"s":"-1","t":3.330,"v":0.228},{"s":"-1","t":3.340,"v":0.226},{"s":"-1","t":3.350,"v":0.220},
      {"s":"-1","t":3.360,"v":0.218},{"s":"-1","t":3.370,"v":0.211},{"s":"-1","t":3.380,"v":0.209},{"s":"-1","t":3.390,"v":0.203},
      {"s":"-1","t":3.400,"v":0.201},{"s":"-1","t":3.410,"v":0.195},{"s":"-1","t":3.420,"v":0.193},{"s":"-1","t":3.430,"v":0.188},
      {"s":"-1","t":3.440,"v":0.185},{"s":"-1","t":3.450,"v":0.180},{"s":"-1","t":3.460,"v":0.178},{"s":"-1","t":3.470,"v":0.172},
      {"s":"-1","t":3.480,"v":0.170},{"s":"-1","t":3.490,"v":0.165},{"s":"-1","t":3.500,"v":0.163},{"s":"-1","t":3.515,"v":0.156},
      {"s":"-1","t":3.530,"v":0.150},{"s":"-1","t":3.545,"v":0.145},{"s":"-1","t":3.560,"v":0.140},{"s":"-1","t":3.575,"v":0.134},
      {"s":"-1","t":3.590,"v":0.130},{"s":"-1","t":3.605,"v":0.125},{"s":"-1","t":3.620,"v":0.120},{"s":"-1","t":3.635,"v":0.116},
      {"s":"-1","t":3.650,"v":0.112},{"s":"-1","t":3.665,"v":0.108},{"s":"-1","t":3.680,"v":0.104},{"s":"-1","t":3.695,"v":0.100},
      {"s":"-1","t":3.710,"v":0.097},{"s":"-1","t":3.725,"v":0.093},{"s":"-1","t":3.740,"v":0.090},{"s":"-1","t":3.755,"v":0.087},
      {"s":"-1","t":3.770,"v":0.084},{"s":"-1","t":3.785,"v":0.081},{"s":"-1","t":3.800,"v":0.078},{"s":"-1","t":3.820,"v":0.075},
      {"s":"-1","t":3.840,"v":0.072},{"s":"-1","t":3.860,"v":0.069},{"s":"-1","t":3.880,"v":0.066},{"s":"-1","t":3.900,"v":0.064},
      {"s":"-1","t":3.920,"v":0.061},{"s":"-1","t":3.940,"v":0.059},{"s":"-1","t":3.960,"v":0.057},{"s":"-1","t":3.980,"v":0.055},
      {"s":"-1","t":4.000,"v":0.053},{"s":"-1","t":4.030,"v":0.050},{"s":"-1","t":4.060,"v":0.047},{"s":"-1","t":4.090,"v":0.045},
      {"s":"-1","t":4.120,"v":0.042},{"s":"-1","t":4.150,"v":0.040},{"s":"-1","t":4.180,"v":0.038},{"s":"-1","t":4.210,"v":0.036},
      {"s":"-1","t":4.240,"v":0.034},{"s":"-1","t":4.270,"v":0.032},{"s":"-1","t":4.300,"v":0.030},{"s":"-1","t":4.330,"v":0.029},
      {"s":"-1","t":4.360,"v":0.027},{"s":"-1","t":4.390,"v":0.026},{"s":"-1","t":4.420,"v":0.024},{"s":"-1","t":4.450,"v":0.023},
      {"s":"-1","t":4.480,"v":0.022},{"s":"-1","t":4.510,"v":0.021},{"s":"-1","t":4.540,"v":0.019},{"s":"-1","t":4.570,"v":0.018},
      {"s":"-1","t":4.600,"v":0.017},{"s":"-1","t":4.640,"v":0.016},{"s":"-1","t":4.680,"v":0.015},{"s":"-1","t":4.720,"v":0.014},
      {"s":"-1","t":4.760,"v":0.013},{"s":"-1","t":4.800,"v":0.012},{"s":"-1","t":4.840,"v":0.011},{"s":"-1","t":4.880,"v":0.010},
      {"s":"-1","t":4.920,"v":0.009},{"s":"-1","t":4.960,"v":0.009},{"s":"-1","t":5.000,"v":0.008},
      {"s":"-1","t":3.520,"v":0.140},{"s":"-1","t":3.560,"v":0.128},{"s":"-1","t":3.600,"v":0.115},{"s":"-1","t":3.640,"v":0.102},
      {"s":"-1","t":3.680,"v":0.092},{"s":"-1","t":3.720,"v":0.082},{"s":"-1","t":3.760,"v":0.075},{"s":"-1","t":3.800,"v":0.066},
      {"s":"-1","t":3.840,"v":0.062},{"s":"-1","t":3.900,"v":0.055},{"s":"-1","t":3.950,"v":0.048},{"s":"-1","t":4.000,"v":0.045},
      {"s":"-1","t":4.100,"v":0.036},{"s":"-1","t":4.200,"v":0.028},{"s":"-1","t":4.300,"v":0.022},{"s":"-1","t":4.400,"v":0.018},
      {"s":"-1","t":4.500,"v":0.014},{"s":"-1","t":4.600,"v":0.011},
      {"s":"-1","t":3.070,"v":0.460},{"s":"-1","t":2.920,"v":0.385},{"s":"-1","t":2.570,"v":0.880},{"s":"-1","t":2.590,"v":0.846},
      {"s":"-1","t":2.665,"v":0.766},{"s":"-1","t":3.340,"v":0.284},{"s":"-1","t":3.340,"v":0.264},{"s":"-1","t":3.480,"v":0.222},
      {"s":"-1","t":3.480,"v":0.215},{"s":"-1","t":3.340,"v":0.185},{"s":"-1","t":3.440,"v":0.185},{"s":"-1","t":3.510,"v":0.161},
      {"s":"-1","t":3.670,"v":0.133},{"s":"-1","t":3.670,"v":0.101},{"s":"-1","t":3.800,"v":0.061},{"s":"-1","t":3.820,"v":0.028},
      {"s":"-1","t":3.980,"v":0.096},{"s":"-1","t":3.980,"v":0.035},{"s":"-1","t":3.970,"v":0.028},{"s":"-1","t":4.260,"v":0.086},
      {"s":"-1","t":4.430,"v":0.094},{"s":"-1","t":4.260,"v":0.004},{"s":"-1","t":4.350,"v":0.010},{"s":"-1","t":4.720,"v":0.071},
      {"s":"-1","t":4.730,"v":0.049},{"s":"-1","t":4.880,"v":0.049},{"s":"-1","t":4.890,"v":0.031},{"s":"-1","t":4.760,"v":0.000},
      {"s":"-1","t":4.600,"v":0.002},{"s":"-1","t":4.640,"v":0.042},{"s":"-1","t":4.500,"v":0.045},{"s":"-1","t":4.080,"v":0.075},
      {"s":"-1","t":4.150,"v":0.070},{"s":"-1","t":4.220,"v":0.066},{"s":"-1","t":4.450,"v":0.035},{"s":"-1","t":4.550,"v":0.038},
      {"s":"-1","t":4.680,"v":0.030},{"s":"-1","t":4.800,"v":0.025},{"s":"-1","t":4.950,"v":0.020},{"s":"-1","t":5.000,"v":0.015},
      {"s":"-2","t":2.50,"v":1.000},{"s":"-2","t":2.51,"v":0.986},{"s":"-2","t":2.70,"v":0.709},{"s":"-2","t":2.80,"v":0.598},
      {"s":"-2","t":2.90,"v":0.504},{"s":"-2","t":3.00,"v":0.425},{"s":"-2","t":3.10,"v":0.359},{"s":"-2","t":3.20,"v":0.302},
      {"s":"-2","t":3.30,"v":0.254},{"s":"-2","t":3.40,"v":0.214},{"s":"-2","t":3.50,"v":0.179},{"s":"-2","t":3.60,"v":0.151},
      {"s":"-2","t":3.70,"v":0.127},{"s":"-2","t":3.80,"v":0.107},{"s":"-2","t":3.90,"v":0.090},{"s":"-2","t":4.00,"v":0.075},
      {"s":"-2","t":4.10,"v":0.063},{"s":"-2","t":4.20,"v":0.053},{"s":"-2","t":4.30,"v":0.045},{"s":"-2","t":4.40,"v":0.038},
      {"s":"-2","t":4.50,"v":0.032},{"s":"-2","t":4.60,"v":0.027},{"s":"-2","t":4.70,"v":0.022},{"s":"-2","t":4.80,"v":0.018},
      {"s":"-2","t":4.90,"v":0.015},{"s":"-2","t":5.00,"v":0.012},{"s":"-2","t":5.10,"v":0.0105},{"s":"-2","t":5.20,"v":0.009},
      {"s":"-2","t":5.30,"v":0.008},{"s":"-2","t":5.40,"v":0.007},{"s":"-2","t":5.50,"v":0.006},{"s":"-2","t":5.60,"v":0.005},
      {"s":"-2","t":5.70,"v":0.0044},{"s":"-2","t":5.80,"v":0.0038},{"s":"-2","t":5.90,"v":0.0032},{"s":"-2","t":6.00,"v":0.0026},
      {"s":"-2","t":6.10,"v":0.0022},{"s":"-2","t":6.20,"v":0.0018},{"s":"-2","t":6.30,"v":0.0015},{"s":"-2","t":6.40,"v":0.0012},
      {"s":"-2","t":6.50,"v":0.001}
    ]
  },
  "mark": {"type": "point", "filled": true, "opacity": 1, "strokeWidth": 0},
  "encoding": {
    "x": {
      "field": "t",
      "type": "quantitative",
      "scale": {"domain": [0, 7], "nice": false, "zero": false},
      "axis": {
        "values": [0, 1, 2, 3, 4, 5, 6],
        "labelPadding": 48,
        "title": "τ, c",
        "titleFontSize": 60,
        "titleFontWeight": "bold",
        "titleAlign": "center",
        "titleBaseline": "alphabetic",
        "titleX": 1658,
        "titleY": 76
      }
    },
    "y": {
      "field": "v",
      "type": "quantitative",
      "scale": {"domain": [0, 1.2], "nice": false},
      "axis": {
        "values": [0, 0.2, 0.4, 0.6, 0.8, 1],
        "labelExpr": "replace(format(datum.value, '~g'), '.', ',')",
        "labelPadding": 57,
        "title": "θ",
        "titleAngle": 0,
        "titleFontSize": 66,
        "titleFontWeight": "normal",
        "titleAlign": "center",
        "titleBaseline": "middle",
        "titleX": -104,
        "titleY": 7
      }
    },
    "color": {
      "field": "s",
      "type": "nominal",
      "scale": {"domain": ["-1", "-2"], "range": ["#6ea5e1", "#ec3131"]},
      "legend": {"title": null}
    },
    "shape": {
      "field": "s",
      "type": "nominal",
      "scale": {"domain": ["-1", "-2"], "range": ["circle", "M0,-1L1,1L-1,1Z"]},
      "legend": {"title": null}
    },
    "size": {
      "field": "s",
      "type": "ordinal",
      "scale": {"domain": ["-1", "-2"], "range": [270, 1850]},
      "legend": {"title": null}
    }
  }
}
